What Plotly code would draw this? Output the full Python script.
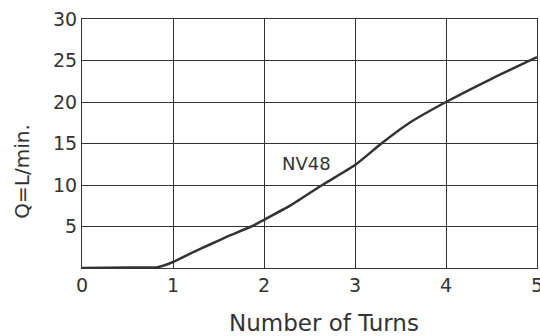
import plotly.graph_objects as go

turns = [0, 0.5, 0.83, 1.0, 1.2, 1.4, 1.6, 1.86, 2.0, 2.3, 2.64, 3.0, 3.29, 3.6, 4.0, 4.5, 5.0]
flow = [0, 0.05, 0.1, 0.72, 1.8, 2.8, 3.8, 5.0, 5.8, 7.6, 10.0, 12.4, 15.0, 17.5, 20.0, 22.8, 25.4]
x_ticks = [0, 1, 2, 3, 4, 5]
y_ticks = [5, 10, 15, 20, 25, 30]
series_label = "NV48"
x_title = "Number of Turns"
y_title = "Q=L/min."

FONT = "DejaVu Sans"
INK = "#333333"

fig = go.Figure()
fig.add_trace(go.Scatter(x=turns, y=flow, mode="lines",
                         line=dict(color=INK, width=2.5, shape="spline", smoothing=0.5),
                         showlegend=False, hoverinfo="skip"))

fig.add_annotation(x=2.47, y=12.6, text=series_label, showarrow=False,
                   font=dict(family=FONT, size=18, color=INK))
fig.add_annotation(x=0.531, xref="paper", y=0, yref="paper", text=x_title,
                   showarrow=False, xanchor="center", yanchor="middle", yshift=-55,
                   font=dict(family=FONT, size=23, color=INK))
fig.add_annotation(x=0, xref="paper", y=0.387, yref="paper", text=y_title,
                   showarrow=False, textangle=-90, xanchor="center", yanchor="middle", xshift=-60,
                   font=dict(family=FONT, size=20, color=INK))

fig.update_xaxes(range=[0, 5], tickvals=x_ticks, ticktext=[str(v) for v in x_ticks],
                 showgrid=True, gridcolor=INK, gridwidth=1.2,
                 showline=True, linecolor=INK, linewidth=1.2, mirror=True,
                 zeroline=False, ticks="", ticklabelstandoff=0, automargin=False,
                 ticklabeloverflow="allow",
                 tickfont=dict(family=FONT, size=19, color=INK))
fig.update_yaxes(range=[0, 30], tickvals=y_ticks, ticktext=[str(v) for v in y_ticks],
                 showgrid=True, gridcolor=INK, gridwidth=1.2,
                 showline=True, linecolor=INK, linewidth=1.2, mirror=True,
                 zeroline=False, ticks="", ticklabelstandoff=0, automargin=False,
                 ticklabeloverflow="allow",
                 tickfont=dict(family=FONT, size=19, color=INK))

fig.update_layout(width=540, height=336, margin=dict(l=82, r=3, t=19, b=68, autoexpand=False),
                  paper_bgcolor="white", plot_bgcolor="white")

fig.write_html("out.html", config={"displayModeBar": False},
               post_script="document.body.style.margin='0';document.body.style.overflow='hidden';")
